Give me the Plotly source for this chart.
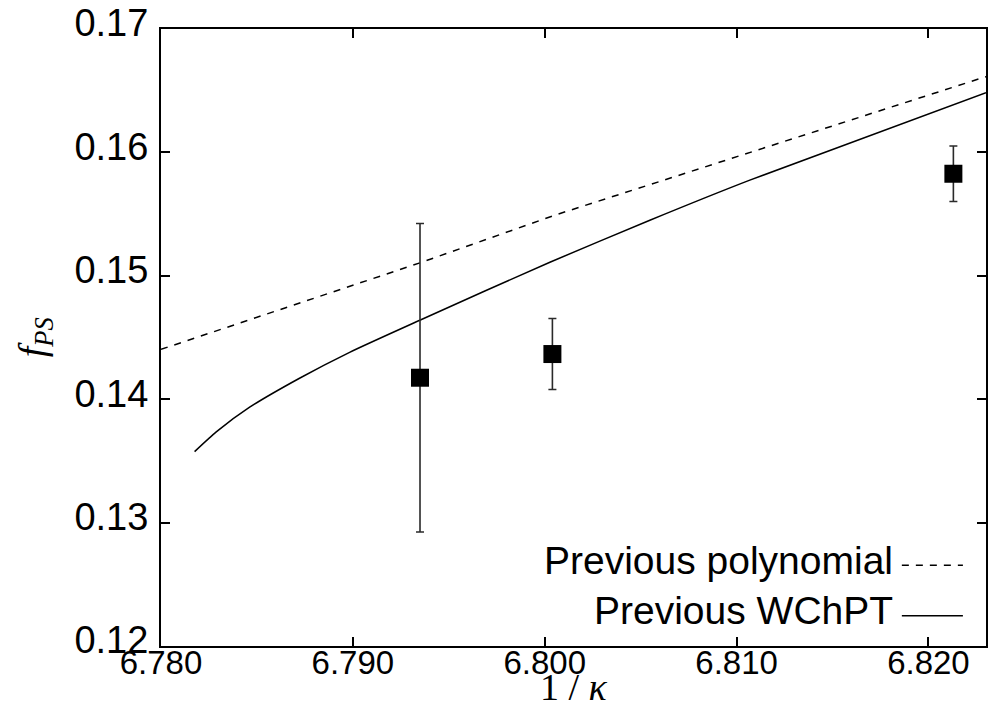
import plotly.graph_objects as go

# Data points (lattice results)
pts_x = [6.7935, 6.8004, 6.8213]
pts_y = [0.14174, 0.14366, 0.15827]
pts_err = [0.01250, 0.00288, 0.00225]

# Previous polynomial fit (dashed)
poly_x = [6.7800, 6.7935, 6.8005, 6.8230]
poly_y = [0.14404, 0.15105, 0.15490, 0.16614]

# Previous WChPT fit (solid)
wchpt_x = [6.78175, 6.78288, 6.78462, 6.78722, 6.78983, 6.79349, 6.80027, 6.80548, 6.81069, 6.82300]
wchpt_y = [0.13575, 0.13735, 0.13935, 0.14170, 0.14380, 0.14640, 0.15110, 0.15450, 0.15775, 0.16484]

x_ticks = [6.780, 6.790, 6.800, 6.810, 6.820]
y_ticks = [0.12, 0.13, 0.14, 0.15, 0.16, 0.17]

legend_labels = ["Previous polynomial", "Previous WChPT"]

fig = go.Figure()

fig.add_trace(go.Scatter(
    x=poly_x, y=poly_y, mode="lines",
    line=dict(color="black", width=1.5, dash="7px,7px"),
    showlegend=False, hoverinfo="skip"))

fig.add_trace(go.Scatter(
    x=wchpt_x, y=wchpt_y, mode="lines",
    line=dict(color="black", width=1.5, shape="spline", smoothing=0.6),
    showlegend=False, hoverinfo="skip"))

fig.add_trace(go.Scatter(
    x=pts_x, y=pts_y, mode="markers",
    marker=dict(symbol="square", size=18, color="black"),
    error_y=dict(type="data", array=pts_err, visible=True,
                 color="#2a2a2a", thickness=1.6, width=4),
    showlegend=False))

axis_common = dict(
    showline=True, linecolor="black", linewidth=2,
    mirror="ticks", ticks="inside", ticklen=9, tickwidth=2, tickcolor="black",
    showgrid=False, zeroline=False, automargin=False,
)

fig.update_xaxes(
    range=[6.780, 6.823], tickvals=x_ticks,
    ticktext=[f"{v:.3f}" for v in x_ticks],
    tickfont=dict(family="Liberation Sans, Arial", size=33, color="black"),
    ticklabelstandoff=-14,
    **axis_common)

fig.update_yaxes(
    range=[0.12, 0.17], tickvals=y_ticks,
    ticktext=[f"{v:.2f}" for v in y_ticks],
    tickfont=dict(family="Liberation Sans, Arial", size=38, color="black"),
    ticklabelstandoff=3,
    ticklabelshift=-6,
    **axis_common)

annotations = [
    dict(text="1 / <i>κ</i>", xref="paper", yref="paper", x=0.5, y=-0.066,
         xanchor="center", yanchor="middle", showarrow=False,
         font=dict(family="Liberation Serif, Times New Roman", size=38, color="black")),
    dict(text="<i>f</i><sub><i>PS</i></sub>", xref="paper", yref="paper", x=-0.153, y=0.5,
         xanchor="center", yanchor="middle", showarrow=False, textangle=-90,
         font=dict(family="Liberation Serif, Times New Roman", size=38, color="black")),
]
legend_y = [0.139, 0.058]
for lab, ly in zip(legend_labels, legend_y):
    annotations.append(dict(
        text=lab, xref="paper", yref="paper", x=0.890, y=ly,
        xanchor="right", yanchor="middle", showarrow=False,
        font=dict(family="Liberation Sans, Arial", size=39, color="black")))

shapes = [
    dict(type="line", xref="paper", yref="paper", x0=0.898, x1=0.972, y0=0.131, y1=0.131,
         line=dict(color="black", width=1.5, dash="7px,7px")),
    dict(type="line", xref="paper", yref="paper", x0=0.898, x1=0.972, y0=0.049, y1=0.049,
         line=dict(color="black", width=1.5)),
]

fig.update_layout(
    width=996, height=704,
    margin=dict(l=161, r=10, t=29, b=58),
    plot_bgcolor="white", paper_bgcolor="white",
    annotations=annotations, shapes=shapes,
    showlegend=False,
)

fig.write_html("out.html")
